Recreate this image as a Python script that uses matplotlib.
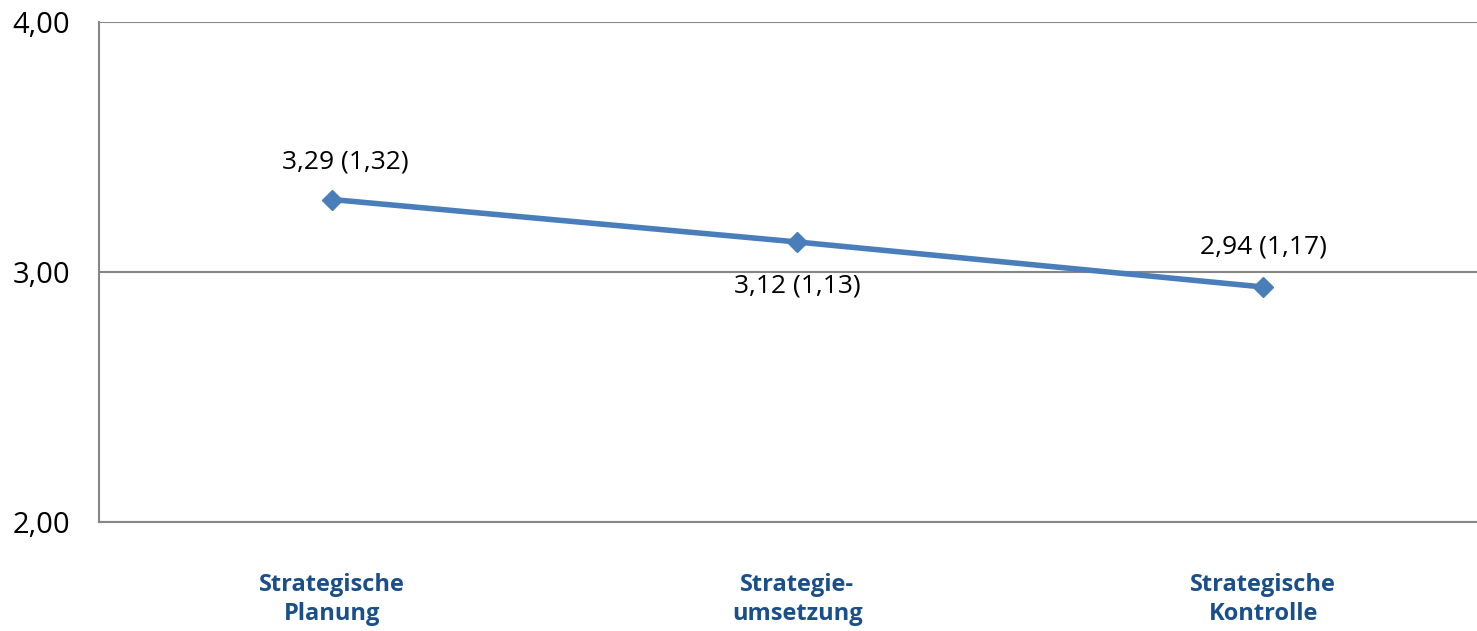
import matplotlib.pyplot as plt

categories = ['Strategische\nPlanung', 'Strategie-\numsetzung', 'Strategische\nKontrolle']
means = [3.29, 3.12, 2.94]
sds = [1.32, 1.13, 1.17]
yticks = [2.0, 3.0, 4.0]

plt.rcParams['font.family'] = ['Open Sans', 'DejaVu Sans']

fig = plt.figure(figsize=(14.77, 6.31), dpi=100)
ax = fig.add_axes([99 / 1477, 1 - 522 / 631, 1 - 99 / 1477, 500 / 631])

x = list(range(len(means)))
ax.plot(x, means, color='#4A7EBB', lw=4, marker='D', ms=10, zorder=3)

# label positions: above, below, above
offsets = [(10, 27), (0, -32), (0, 29)]
for xi, m, s, off in zip(x, means, sds, offsets):
    lab = f'{m:.2f} ({s:.2f})'.replace('.', ',')
    ax.annotate(lab, (xi, m), xytext=off, textcoords='offset points',
                ha='center', va='center', fontsize=19, color='black')

ax.set_xlim(-0.5, (1477 - 331) / 466)
ax.set_ylim(2, 4)
ax.set_yticks(yticks)
ax.set_yticklabels([f'{v:.2f}'.replace('.', ',') for v in yticks], fontsize=21)
ax.set_xticks(x)
ax.set_xticklabels(categories, fontsize=17, fontweight='bold', color='#1B4F8A',
                   linespacing=1.25)
ax.tick_params(axis='both', length=0)
ax.tick_params(axis='y', pad=21)
ax.tick_params(axis='x', pad=37)

ax.grid(axis='y', color='#868686', lw=1.5)
ax.set_axisbelow(True)
for side in ['top', 'right']:
    ax.spines[side].set_visible(False)
for side in ['left', 'bottom']:
    ax.spines[side].set_color('#868686')
    ax.spines[side].set_linewidth(1.5)

fig.savefig('out.png', dpi=100)
